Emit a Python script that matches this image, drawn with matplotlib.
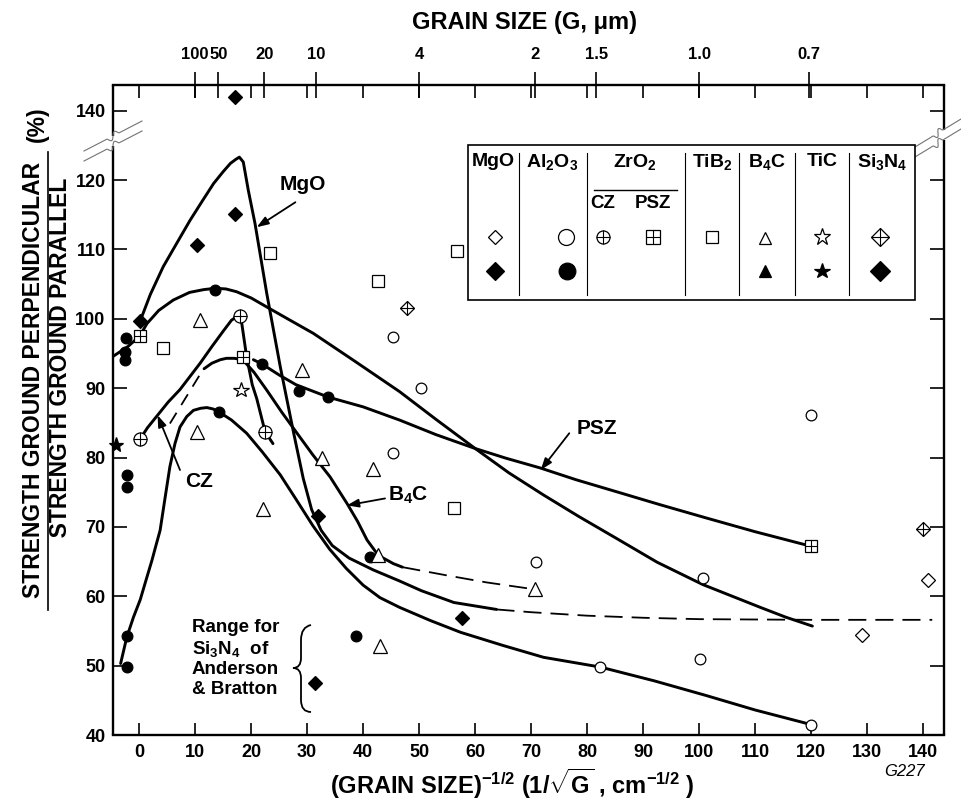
import numpy as np
import matplotlib.pyplot as plt
from matplotlib.path import Path
from matplotlib.patches import PathPatch, Rectangle
from matplotlib.lines import Line2D

plt.rcParams['font.family'] = ['Liberation Sans', 'DejaVu Sans']
plt.rcParams['font.weight'] = 'bold'
plt.rcParams['mathtext.fontset'] = 'custom'
plt.rcParams['mathtext.rm'] = 'Liberation Sans:bold'
plt.rcParams['mathtext.it'] = 'Liberation Sans:italic:bold'
plt.rcParams['mathtext.bf'] = 'Liberation Sans:bold'
plt.rcParams['mathtext.default'] = 'rm'

W, H = 961, 801
L, R, T, B = 112.5, 944, 85, 735   # plot frame in pixels

# ---- data points: x = (grain size)^-1/2, y = ratio (%) ----
mgo_open_x = [129.0, 140.8]
mgo_open_y = [54.4, 62.3]
mgo_fill_x = [0.2, 10.3, 17.1, 17.1]
mgo_fill_y = [99.7, 110.7, 115.1, 142.0]
al_open_x = [45.4, 50.3, 45.4, 70.8, 82.3, 100.6, 100.2, 119.9, 120.0]
al_open_y = [97.4, 90.0, 80.6, 64.9, 49.8, 62.7, 50.9, 86.2, 41.5]
al_fill_x = [-2.3, -2.5, -2.5, -2.2, -2.2, -2.2, -2.2, 13.6, 14.2, 21.9, 28.5, 33.8, 41.3, 38.7]
al_fill_y = [97.2, 95.2, 94.0, 77.5, 75.8, 54.3, 49.8, 104.2, 86.6, 93.5, 89.6, 88.7, 65.7, 54.3]
cz_x = [0.2, 18.0, 22.5]
cz_y = [82.7, 100.4, 83.7]
psz_x = [0.1, 18.5, 120.0]
psz_y = [97.5, 94.5, 67.2]
tib2_x = [4.3, 23.4, 42.7, 56.7, 56.3]
tib2_y = [95.8, 109.5, 105.5, 109.8, 72.7]
b4c_x = [10.9, 10.3, 22.1, 29.0, 32.6, 41.8, 42.7, 70.6, 43.0]
b4c_y = [99.8, 83.7, 72.6, 92.6, 79.9, 78.4, 65.9, 61.0, 52.8]
tic_open_x = [18.2]
tic_open_y = [89.8]
tic_fill_x = [-4.2]
tic_fill_y = [81.8]
si_open_x = [47.8, 140.0]
si_open_y = [101.5, 69.7]
si_fill_x = [32.0, 57.7, 31.4]
si_fill_y = [71.5, 56.8, 47.5]

# ---- hand-drawn trend curves ----
mgo_cx = [0.2, 2.0, 4.3, 6.8, 9.1, 11.3, 13.3, 15.0, 16.3, 17.3, 17.9, 18.6, 19.5, 20.7,
          22.8, 25.2, 27.6, 29.3, 30.8, 32.5, 34.5, 37.5, 41.8, 46.5, 50.4, 56.2, 63.8]
mgo_cy = [99.7, 103.5, 107.5, 111.0, 114.2, 117.0, 119.5, 121.2, 122.4, 123.0, 123.3, 122.6,
          118.5, 113.7, 103.6, 93.1, 83.5, 77.0, 72.5, 69.5, 67.3, 65.5, 63.8, 62.2, 60.8, 59.1, 58.1]
mgo_dx = [63.8, 70.0, 80.0, 90.0, 100.0, 120.0, 141.6]
mgo_dy = [58.1, 57.7, 57.2, 56.9, 56.7, 56.6, 56.6]

up_cx = [-4.8, -2.0, 0.1, 1.4, 3.5, 6.1, 9.0, 11.5, 13.6, 15.5, 17.4, 20.0, 22.8, 26.5, 31.1,
         38.3, 46.5, 53.0, 60.0, 66.0, 72.2, 78.5, 85.1, 92.5, 100.6, 110.9, 115.4, 120.2]
up_cy = [94.5, 96.0, 97.5, 99.3, 101.2, 102.7, 103.8, 104.2, 104.4, 104.3, 103.9, 103.0, 101.7,
         100.0, 97.9, 94.0, 89.5, 85.5, 81.3, 77.8, 74.6, 71.5, 68.4, 64.9, 61.7, 58.4, 57.0, 55.7]

psz_cx = [20.4, 21.9, 25.0, 28.0, 33.8, 40.0, 46.5, 53.0, 60.0, 65.5, 71.6, 78.0, 85.1, 93.0,
          101.2, 110.0, 120.0]
psz_cy = [94.1, 93.5, 91.9, 90.5, 88.7, 87.3, 85.4, 83.3, 81.3, 79.9, 78.5, 76.8, 75.1, 73.2,
          71.3, 69.3, 67.2]

cz_cx = [0.2, 1.5, 3.3, 5.2, 7.3, 9.1, 10.9, 13.0, 15.0, 16.5, 17.6, 18.3, 19.2, 20.2, 21.0,
         22.5, 23.9]
cz_cy = [82.7, 84.3, 86.1, 88.0, 89.8, 91.7, 93.6, 96.0, 98.2, 99.8, 100.4, 99.5, 94.5, 90.5,
         88.5, 83.7, 82.0]

b4c_rise_x = [5.5, 11.2]
b4c_rise_y = [84.9, 92.4]
b4c_cx = [11.6, 13.0, 14.5, 15.6, 17.0, 18.5, 20.5, 22.8, 25.5, 28.2, 31.0, 34.1, 37.1, 39.0,
          40.7, 42.7, 45.4, 47.0]
b4c_cy = [92.8, 93.6, 94.1, 94.3, 94.3, 94.1, 92.3, 89.7, 86.5, 83.5, 80.4, 77.2, 73.4, 70.8,
          68.1, 65.9, 64.7, 64.2]
b4c_dx = [47.0, 55.0, 62.0, 70.6]
b4c_dy = [64.2, 63.0, 62.0, 61.0]

al_cx = [-3.3, -2.2, -1.0, 0.2, 1.3, 2.3, 3.0, 3.75, 4.6, 5.5, 6.4, 7.3, 8.5, 9.7, 11.0, 12.1,
         13.2, 14.2, 16.5, 19.2, 22.0, 25.2, 28.0, 31.0, 34.0, 37.0, 40.0, 43.0, 46.5, 52.0,
         57.4, 65.0, 72.2, 82.3, 92.0, 101.2, 110.0, 120.0]
al_cy = [50.3, 54.1, 57.0, 59.5, 62.5, 65.2, 67.3, 69.5, 74.0, 78.7, 82.0, 84.4, 85.9, 86.8,
         87.1, 87.2, 87.0, 86.6, 85.4, 83.5, 80.8, 77.5, 74.0, 70.2, 66.8, 64.0, 61.6, 59.8,
         58.4, 56.5, 54.8, 52.9, 51.2, 49.8, 47.8, 45.7, 43.6, 41.5]

# axis ticks
x_ticks = list(range(0, 141, 10))
y_ticks = [40, 50, 60, 70, 80, 90, 100, 110, 120, 140]
grain_um = [100, 50, 20, 10, 4, 2, 1.5, 1.0, 0.7]
grain_lab = ['100', '50', '20', '10', '4', '2', '1.5', '1.0', '0.7']


def brk(y):
    # values above the axis break are drawn one decade lower
    y = np.asarray(y, dtype=float)
    return np.where(y > 125, y - 10, y)


def ax_frac(px, py):
    return (np.asarray(px) - L) / (R - L), (B - np.asarray(py)) / (B - T)


fig = plt.figure(figsize=(W / 100, H / 100), dpi=100)
ax = fig.add_axes([L / W, 1 - B / H, (R - L) / W, (B - T) / H])
ax.set_xlim(-4.75, 143.7)
ax.set_ylim(40, 133.7)

# curves
solid = dict(color='black', lw=2.1, solid_joinstyle='round', solid_capstyle='round', zorder=3)
dash = dict(color='black', lw=1.3, dashes=(10, 5), zorder=3)
ax.plot(mgo_cx, mgo_cy, **solid)
ax.plot(mgo_dx, mgo_dy, **dash)
ax.plot(up_cx, up_cy, **solid)
ax.plot(psz_cx, psz_cy, **solid)
ax.plot(cz_cx, cz_cy, **solid)
ax.plot(b4c_rise_x, b4c_rise_y, color='black', lw=1.3, dashes=(7, 5), zorder=3)
ax.plot(b4c_cx, b4c_cy, **solid)
ax.plot(b4c_dx, b4c_dy, **dash)
ax.plot(al_cx, al_cy, **solid)


def mark(x, y, style, size, filled=False, cross=False, trans=None, z=5):
    kw = dict(ls='none', clip_on=False, zorder=z)
    if trans is not None:
        kw['transform'] = trans
    face = 'black' if filled else 'white'
    ax.plot(x, y, style, ms=size, mfc=face, mec='black', mew=0.9, **kw)
    if cross:
        cs = size * 1.41 if style == 'D' else size
        ax.plot(x, y, '+', ms=cs, mec='black', mew=0.8, **kw)


mark(al_fill_x, brk(al_fill_y), 'o', 7.7, filled=True)
mark(mgo_fill_x, brk(mgo_fill_y), 'D', 7.0, filled=True)
mark(si_fill_x, brk(si_fill_y), 'D', 7.2, filled=True)
mark(tic_fill_x, brk(tic_fill_y), '*', 11, filled=True)
mark(mgo_open_x, brk(mgo_open_y), 'D', 7.0)
mark(al_open_x, brk(al_open_y), 'o', 7.7)
mark(tib2_x, brk(tib2_y), 's', 8.2)
mark(b4c_x, brk(b4c_y), '^', 9.4)
mark(tic_open_x, brk(tic_open_y), '*', 11.5)
mark(cz_x, brk(cz_y), 'o', 9.4, cross=True)
mark(psz_x, brk(psz_y), 's', 8.8, cross=True)
mark(si_open_x, brk(si_open_y), 'D', 7.2, cross=True)

# curve labels
arrow = dict(arrowstyle='-|>,head_length=0.7,head_width=0.25', color='black', lw=1.3,
             shrinkA=0, shrinkB=0)
ax.annotate('', xy=(21.0, 113.2), xytext=(27.9, 116.8), arrowprops=arrow)
ax.text(29.2, 119.4, 'MgO', fontsize=15, ha='center', va='center')
ax.annotate('', xy=(71.7, 78.2), xytext=(76.8, 83.5), arrowprops=arrow)
ax.text(81.8, 84.2, 'PSZ', fontsize=15, ha='center', va='center')
ax.annotate('', xy=(37.1, 73.1), xytext=(43.9, 74.1), arrowprops=arrow)
ax.text(48.0, 74.6, 'B$_4$C', fontsize=15, ha='center', va='center')
ax.annotate('', xy=(3.3, 86.1), xytext=(7.3, 78.2), arrowprops=arrow)
ax.text(10.7, 76.6, 'CZ', fontsize=15, ha='center', va='center')

# Anderson & Bratton note with brace
for txt, py in [('Range for', 628), ('Si$_3$N$_4$  of', 649), ('Anderson', 670), ('& Bratton', 690)]:
    ax.text(*ax_frac(192, py), txt, transform=ax.transAxes, fontsize=13.5, ha='left', va='center')
brace = [(311, 625), (301, 627), (301, 640), (301, 658), (301, 668), (293, 668),
         (301, 668), (301, 678), (301, 700), (301, 712), (311, 712)]
codes = [Path.MOVETO, Path.CURVE3, Path.CURVE3, Path.LINETO, Path.CURVE3, Path.CURVE3,
         Path.CURVE3, Path.CURVE3, Path.LINETO, Path.CURVE3, Path.CURVE3]
bx, by = ax_frac([p[0] for p in brace], [p[1] for p in brace])
ax.add_patch(PathPatch(Path(np.column_stack([bx, by]), codes), transform=ax.transAxes,
                       fill=False, lw=1.3, ec='black'))

# axes, ticks, broken spines
ax.set_xticks(x_ticks)
ax.set_yticks(brk(y_ticks))
ax.set_yticklabels([str(v) for v in y_ticks])
ax.tick_params(axis='x', direction='in', length=9, width=1.2, top=True, labelsize=13, pad=6.5)
ax.tick_params(axis='y', direction='in', length=10, width=1.2, right=True, labelsize=13, pad=5)
for s in ['top', 'bottom']:
    ax.spines[s].set_linewidth(1.7)
for s in ['left', 'right']:
    ax.spines[s].set_visible(False)

sec = ax.secondary_xaxis('top')
sec.set_xticks([100 / np.sqrt(g) for g in grain_um], labels=grain_lab)
sec.tick_params(direction='inout', length=19, width=1.2, labelsize=12, pad=7)
sec.spines['top'].set_visible(False)

spine = dict(transform=ax.transAxes, color='black', lw=1.7, clip_on=False, solid_capstyle='butt')
gl = ax_frac(0, [146, 136])[1]
gr = ax_frac(0, [140, 130])[1]
ax.plot([0, 0], [0, gl[0]], **spine)
ax.plot([0, 0], [gl[1], 1], **spine)
ax.plot([1, 1], [0, gr[0]], **spine)
ax.plot([1, 1], [gr[1], 1], **spine)


def squiggle(p0, p1):
    t = np.linspace(0, 1, 80)
    d = np.array(p1, float) - np.array(p0, float)
    n = np.array([-d[1], d[0]]) / np.hypot(*d)
    bump = np.where((t > 0.4) & (t < 0.6), 3.5 * np.sin((t - 0.4) / 0.2 * 2 * np.pi), 0)
    pts = np.array(p0, float) + np.outer(t, d) + np.outer(bump, n)
    fx_, fy_ = ax_frac(pts[:, 0], pts[:, 1])
    ax.plot(fx_, fy_, transform=ax.transAxes, color='0.45', lw=0.8, clip_on=False, zorder=6)


squiggle((84, 151), (142, 121))
squiggle((84, 161), (142, 131))
squiggle((915, 147), (961, 119))
squiggle((915, 157), (961, 129))

# legend table
lx0, ly0, lx1, ly1 = 468, 145, 915, 300
ax.add_patch(Rectangle(ax_frac(lx0, ly1), (lx1 - lx0) / (R - L), (ly1 - ly0) / (B - T),
                       transform=ax.transAxes, fc='white', ec='black', lw=1.2, zorder=7))
for px in [519, 587, 685, 739, 795, 849]:
    xs, ys = ax_frac([px, px], [153, 295])
    ax.plot(xs, ys, transform=ax.transAxes, color='black', lw=0.8, zorder=8)
xs, ys = ax_frac([594, 677], [190, 190])
ax.plot(xs, ys, transform=ax.transAxes, color='black', lw=1.0, zorder=8)

heads = [('MgO', 493), ('Al$_2$O$_3$', 552), ('ZrO$_2$', 635), ('TiB$_2$', 712),
         ('B$_4$C', 767), ('TiC', 822), ('Si$_3$N$_4$', 882)]
for txt, px in heads:
    ax.text(*ax_frac(px, 162), txt, transform=ax.transAxes, fontsize=14, ha='center',
            va='center', zorder=9)
ax.text(*ax_frac(603, 203), 'CZ', transform=ax.transAxes, fontsize=13.5, ha='center', va='center', zorder=9)
ax.text(*ax_frac(653, 203), 'PSZ', transform=ax.transAxes, fontsize=13.5, ha='center', va='center', zorder=9)

tr = ax.transAxes
mark(*ax_frac(495, 237), 'D', 7.6, trans=tr, z=9)
mark(*ax_frac(566, 237), 'o', 11.5, trans=tr, z=9)
mark(*ax_frac(603, 237), 'o', 9.4, cross=True, trans=tr, z=9)
mark(*ax_frac(653, 237), 's', 9.4, cross=True, trans=tr, z=9)
mark(*ax_frac(712, 237), 's', 8.6, trans=tr, z=9)
mark(*ax_frac(765, 238), '^', 8.6, trans=tr, z=9)
mark(*ax_frac(822, 237), '*', 12.5, trans=tr, z=9)
mark(*ax_frac(880, 237), 'D', 8.7, cross=True, trans=tr, z=9)
mark(*ax_frac(495, 271), 'D', 8.7, filled=True, trans=tr, z=9)
mark(*ax_frac(567, 271), 'o', 12, filled=True, trans=tr, z=9)
mark(*ax_frac(765, 271), '^', 9.0, filled=True, trans=tr, z=9)
mark(*ax_frac(822, 271), '*', 11.5, filled=True, trans=tr, z=9)
mark(*ax_frac(880, 271), 'D', 10.2, filled=True, trans=tr, z=9)

# titles and axis labels
fig.text(412 / W, 1 - 22 / H, 'GRAIN SIZE (G, μm)', fontsize=17, ha='left', va='center')
fig.text(330 / W, 1 - 784 / H, '(GRAIN SIZE)$^{-1/2}$ (1/$\\sqrt{G}$ , cm$^{-1/2}$ )',
         fontsize=17, ha='left', va='center')
fig.text(904 / W, 1 - 771 / H, 'G227', fontsize=12, fontweight='normal', fontstyle='italic',
         ha='center', va='center')
# ratio label: numerator over denominator, one rotated block with a fraction bar
fig.text(47 / W, 1 - 380 / H,
         'STRENGTH GROUND PERPENDICULAR\n' + ' ' * 7 + 'STRENGTH GROUND PARALLEL',
         rotation=90, fontsize=16.5, ha='center', va='center', multialignment='center',
         linespacing=1.2)
fig.text(37 / W, 1 - 124 / H, '(%)', rotation=90, fontsize=16.5, ha='center', va='center')
fig.add_artist(Line2D([47.5 / W, 47.5 / W], [1 - 152 / H, 1 - 610 / H], color='black', lw=1.2))

fig.savefig('out.png', dpi=100)
